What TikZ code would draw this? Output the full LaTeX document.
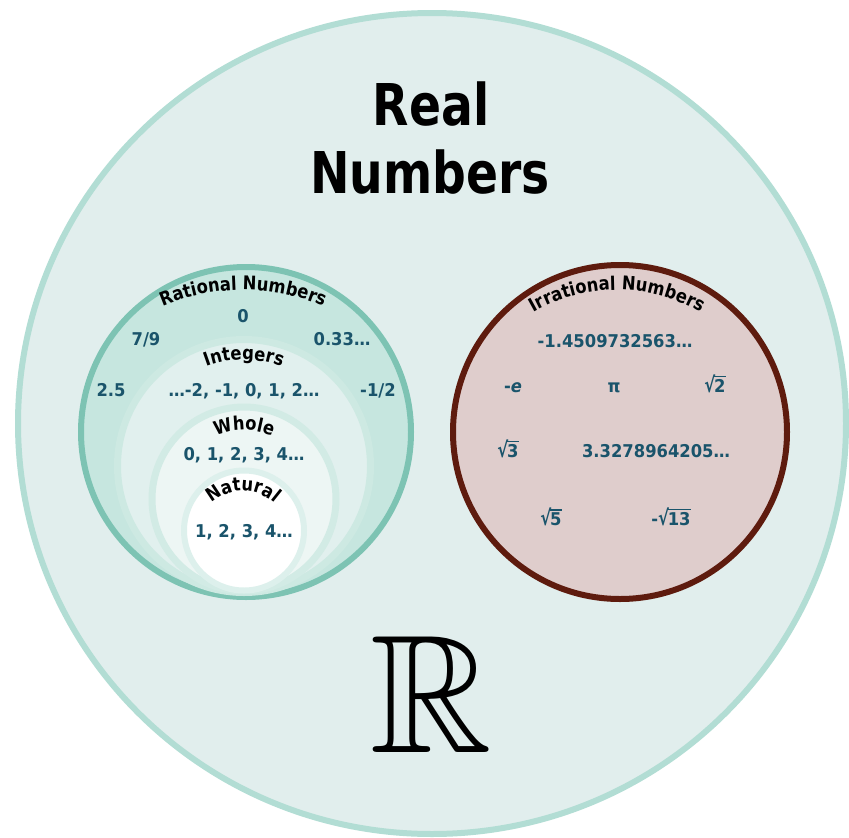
\documentclass[tikz,border=0pt]{standalone}
\usepackage{fontspec}
\usepackage{amssymb}
\usepackage{graphicx}
\setmainfont{DejaVu Sans}
\newfontfamily\labfam{DejaVu Sans}[FakeStretch=0.87]
\newfontfamily\numfam{DejaVu Sans}[FakeStretch=0.93]
\usetikzlibrary{decorations.text}
\definecolor{realfill}{HTML}{E1EEED}
\definecolor{realring}{HTML}{B2DDD4}
\definecolor{ratfill}{HTML}{C6E6DF}
\definecolor{ratring}{HTML}{7DC3B3}
\definecolor{intfill}{HTML}{E1F0EE}
\definecolor{intring}{HTML}{CDE9E2}
\definecolor{whfill}{HTML}{EDF6F4}
\definecolor{whring}{HTML}{D2EBE5}
\definecolor{natring}{HTML}{DDF0EC}
\definecolor{irrfill}{HTML}{DFCDCC}
\definecolor{irrring}{HTML}{5E1B0E}
\definecolor{numcol}{HTML}{1A546B}
\newcommand\numfont{\numfam\fontsize{17.6}{19}\selectfont\bfseries}
\newcommand\labfont{\labfam\fontsize{18.8}{20}\selectfont\bfseries}
\newcommand\sq[1]{\raisebox{-0.5pt}{\scalebox{1}[1.2]{√}}\kern-0.07em\vbox{\hrule height 1.5pt\kern 1.6pt\hbox{#1}}}
\tikzset{
  num/.style={text=numcol, font=\numfont, anchor=base, inner sep=0pt},
  title/.style={font=\fontsize{57.6}{60}\selectfont\bfseries, anchor=base, inner sep=0pt},
  arclab/.style={decorate, decoration={text along path, text align=center, text color=black}},
}
\begin{document}
\begin{tikzpicture}[x=1pt,y=1pt]
\fill[white] (0,0) rectangle (849,-838);
\path[use as bounding box] (0,0) rectangle (849,-838);
% real numbers
\draw[line width=6pt, draw=realring, fill=realfill] (432,-423.5) ellipse [x radius=414, y radius=410.5];
% rational set
\draw[line width=6pt, draw=ratring, fill=ratfill] (246,-432) circle (165);
\draw[line width=7pt, draw=intring, fill=intfill] (244,-466) circle (126.5);
\draw[line width=7pt, draw=whring, fill=whfill] (244,-499) circle (92);
\draw[line width=6pt, draw=natring, fill=white] (244,-530.5) circle (60);
% irrational set
\draw[line width=6pt, draw=irrring, fill=irrfill] (620,-432) circle (167);
% titles
\node[title] (t1) at (431,-125) {\scalebox{0.82}[1]{Real}};
\node[title] (t2) at (430,-193) {\scalebox{0.82}[1]{Numbers}};
% curved labels
\path[arclab, decoration={text={|\labfont|Rational Numbers}}] (243,-495) ++(122:205) arc[start angle=122, end angle=58, radius=205];
\path[arclab, decoration={text={|\labfont|Irrational Numbers}}] (617,-458) ++(130:168) arc[start angle=130, end angle=50, radius=168];
\path[arclab, decoration={text={|\labfont|Integers}}] (244,-466) ++(125:106) arc[start angle=125, end angle=55, radius=106];
\path[arclab, decoration={text={|\labfont|Whole}}] (244,-499) ++(130:69) arc[start angle=130, end angle=50, radius=69];
\path[arclab, decoration={text={|\labfont|Natural}}] (243,-538) ++(150:47) arc[start angle=150, end angle=30, radius=47];
% rational numbers
\node[num] (r0) at (243,-322) {0};
\node[num] (r79) at (146,-345) {7/9};
\node[num] (r033) at (342,-345) {0.33…};
\node[num] (r25) at (111,-396) {2.5};
\node[num] (rint) at (244,-396) {…-2, -1, 0, 1, 2…};
\node[num] (rhalf) at (378,-396) {-1/2};
\node[num] (rwh) at (244,-460) {0, 1, 2, 3, 4…};
\node[num] (rnat) at (244,-537) {1, 2, 3, 4…};
% irrational numbers
\node[num] (i1) at (615,-347) {-1.4509732563…};
\node[num] (ie) at (513,-392) {-\textit{e}};
\node[num] (ipi) at (614,-392) {π};
\node[num] (is2) at (715,-392) {\sq{2}};
\node[num] (is3) at (508,-457) {\sq{3}};
\node[num] (i3) at (656,-457) {3.3278964205…};
\node[num] (is5) at (551,-525) {\sq{5}};
\node[num] (is13) at (671,-525) {-\sq{13}};
% R symbol
\node[inner sep=0pt] (bbR) at (431,-694) {\resizebox{!}{116pt}{$\mathbb{R}$}};
\end{tikzpicture}
\end{document}
